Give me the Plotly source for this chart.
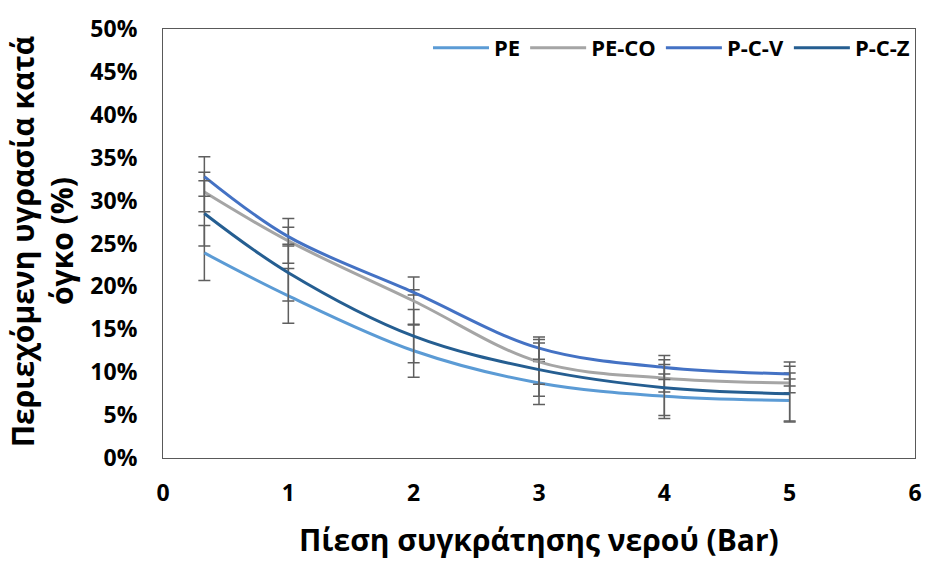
import plotly.graph_objects as go

# Water retention pressure (bar)
pressure = [0.33, 1, 2, 3, 4, 5]

# Volumetric moisture content (fraction) and standard deviations
pe = [0.239, 0.189, 0.125, 0.0875, 0.072, 0.067]
pe_err = [0.032, 0.032, 0.031, 0.025, 0.026, 0.025]

pe_co = [0.310, 0.253, 0.183, 0.112, 0.093, 0.0875]
pe_co_err = [0.023, 0.026, 0.028, 0.026, 0.016, 0.0115]

pcv = [0.328, 0.258, 0.193, 0.128, 0.1055, 0.098]
pcv_err = [0.023, 0.011, 0.003, 0.013, 0.014, 0.014]

pcz = [0.285, 0.216, 0.142, 0.103, 0.082, 0.075]
pcz_err = [0.038, 0.033, 0.031, 0.031, 0.0325, 0.032]

series = [
    ("PE", pe, pe_err, "#5B9BD5"),
    ("PE-CO", pe_co, pe_co_err, "#A5A5A5"),
    ("P-C-V", pcv, pcv_err, "#4472C4"),
    ("P-C-Z", pcz, pcz_err, "#255E91"),
]

x_title = "Πίεση συγκράτησης νερού (Bar)"
y_title_lines = ["Περιεχόμενη υγρασία κατά", "όγκο (%)"]

FONT = "Open Sans"
TICK_FONT = dict(family=FONT, size=23, color="#000000", weight="bold")
TITLE_FONT = dict(family=FONT, size=30, color="#000000", weight="bold")

# plot area in pixels
W, H = 934, 561
L, R, T, B = 163, 12, 23, 103
pw, ph = W - L - R, H - T - B

fig = go.Figure()
for name, ys, errs, color in series:
    fig.add_trace(go.Scatter(
        x=pressure, y=ys, name=name, mode="lines",
        line=dict(color=color, width=3, shape="spline", smoothing=1.0),
        error_y=dict(type="data", array=errs, visible=True,
                     color="#5F5F5F", thickness=1.5, width=6),
    ))

# axis titles placed as rotated / centred text blocks
fig.add_annotation(text=x_title, xref="paper", yref="paper",
                   x=0.5, y=-(541 - (H - B)) / ph,
                   xanchor="center", yanchor="middle", borderpad=0,
                   showarrow=False, font=TITLE_FONT)
for px, line in zip([21, 60], y_title_lines):
    fig.add_annotation(text=line, xref="paper", yref="paper",
                       x=(px - L) / pw, y=1 - (238 - T) / ph,
                       xanchor="center", yanchor="middle", textangle=-90,
                       showarrow=False, font=TITLE_FONT)

fig.update_layout(
    width=W, height=H,
    margin=dict(l=L, r=R, t=T, b=B),
    paper_bgcolor="white", plot_bgcolor="white",
    font=dict(family=FONT, color="#000000"),
    legend=dict(
        orientation="h", x=1, xanchor="right", y=1.005, yanchor="top",
        bgcolor="rgba(0,0,0,0)",
        font=dict(family=FONT, size=22, color="#000000", weight="bold"),
        itemwidth=56, tracegroupgap=0,
    ),
    xaxis=dict(
        range=[0, 6], dtick=1, tick0=0,
        showgrid=False, zeroline=False, ticks="",
        showline=True, mirror=True, linecolor="#595959", linewidth=1,
        tickfont=TICK_FONT, ticklabelstandoff=14,
    ),
    yaxis=dict(
        range=[0, 0.5], dtick=0.05, tick0=0, tickformat=".0%",
        showgrid=False, zeroline=False, ticks="",
        showline=True, mirror=True, linecolor="#595959", linewidth=1,
        tickfont=TICK_FONT, ticklabelstandoff=20,
    ),
)

fig.write_html("out.html")
